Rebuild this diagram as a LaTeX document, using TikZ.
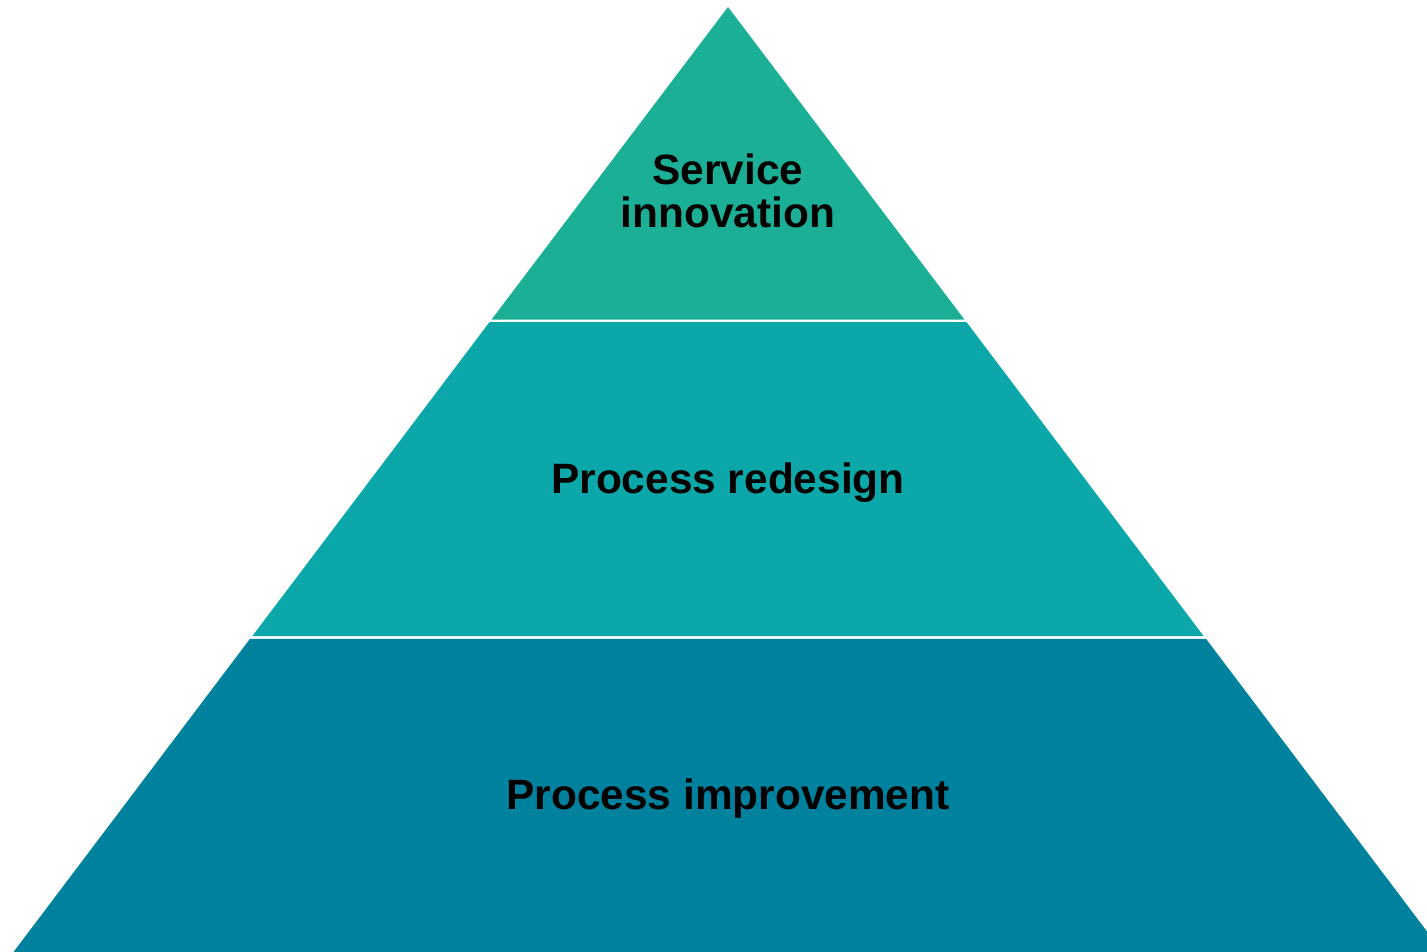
\documentclass[tikz,border=0pt]{standalone}
\usepackage{fontspec}
\setmainfont{Liberation Sans}
\definecolor{innovcol}{RGB}{27,175,150}
\definecolor{redesigncol}{RGB}{12,168,169}
\definecolor{improvecol}{RGB}{0,129,158}
\begin{document}
\begin{tikzpicture}
        [x=1pt, y=-1pt,
        layer/.style={draw=none},
        label/.style={anchor=base, align=center, font=\fontsize{42.4}{43.5}\selectfont\bfseries, text=black}]

        \useasboundingbox (0,0) rectangle (1427,952);
        \clip (0,0) rectangle (1427,952);

        % Pyramid layers
        \fill[layer, innovcol] (728,7) -- (964.4,319.5) -- (491.6,319.5) -- cycle;
        \fill[layer, redesigncol] (489.6,322) -- (966.4,322) -- (1203.6,636) -- (252.4,636) -- cycle;
        \fill[layer, improvecol] (250,638.8) -- (1206,638.8) -- (1442.5,952) -- (13.5,952) -- cycle;

        % Labels for the layers
        \node[label] (innovation) at (728,228) {Service\\innovation};
        \node[label] (redesign) at (728,493) {Process redesign};
        \node[label] (improvement) at (728,809) {Process improvement};

\end{tikzpicture}
\end{document}
